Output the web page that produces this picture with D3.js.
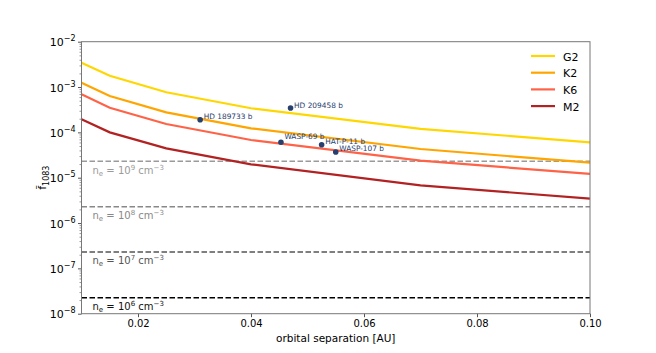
<!DOCTYPE html>
<html><head><meta charset="utf-8">
<script src="https://cdn.jsdelivr.net/npm/d3@7"></script>
<style>body{margin:0;background:#fff}svg{display:block;font-family:"DejaVu Sans",sans-serif}</style>
</head><body><svg id="c" width="656" height="353"></svg>
<script>
const separations = [0.01, 0.015, 0.025, 0.04, 0.07, 0.1];
const seriesNames = ["G2", "K2", "K6", "M2"];
const seriesColors = ["#FFD700", "#FFA500", "#FF6347", "#B22222"];
const G2 = [3.44e-3, 1.78e-3, 7.66e-4, 3.40e-4, 1.19e-4, 6.04e-5];
const K2 = [1.25e-3, 6.34e-4, 2.77e-4, 1.23e-4, 4.30e-5, 2.14e-5];
const K6 = [6.92e-4, 3.50e-4, 1.53e-4, 6.78e-5, 2.37e-5, 1.21e-5];
const M2 = [1.94e-4, 1.00e-4, 4.45e-5, 1.97e-5, 6.79e-6, 3.44e-6];
const planetNames = ["HD 189733 b", "HD 209458 b", "WASP-69 b", "HAT-P-11 b", "WASP-107 b"];
const planetSep = [0.031, 0.047, 0.0453, 0.0525, 0.055];
const planetF = [1.90e-4, 3.44e-4, 6.04e-5, 5.35e-5, 3.69e-5];
const densityExp = [9, 8, 7, 6];
const densityF = [2.3e-5, 2.3e-6, 2.3e-7, 2.25e-8];
const densityColors = ["#9a9a9a", "#888888", "#555555", "#000000"];
const xTicks = [0.02, 0.04, 0.06, 0.08, 0.10];
const yTickExp = [-2, -3, -4, -5, -6, -7, -8];

const svg = d3.select("#c");
const L = 81.5, R = 590, T = 41.7, B = 313.7;
const x = d3.scaleLinear().domain([0.01, 0.1]).range([L, R]);
const y = d3.scaleLog().domain([1e-8, 1e-2]).range([B, T]);
const series = [G2, K2, K6, M2];

// density lines
densityF.forEach((v, i) => {
  svg.append("line").attr("x1", L).attr("x2", R).attr("y1", y(v)).attr("y2", y(v))
    .attr("stroke", densityColors[i]).attr("stroke-width", 1.5).attr("stroke-dasharray", "5.5,2.5");
  const t = svg.append("text").attr("x", L + 11).attr("y", y(v) + 12.5)
    .attr("font-size", 10).attr("fill", i === 3 ? "#111" : densityColors[i]);
  t.append("tspan").text("n");
  t.append("tspan").attr("font-size", 7).attr("dy", 2).text("e");
  t.append("tspan").attr("dy", -2).text(" = 10");
  t.append("tspan").attr("font-size", 7).attr("dy", -4).text(String(densityExp[i]));
  t.append("tspan").attr("dy", 4).text(" cm");
  t.append("tspan").attr("font-size", 7).attr("dy", -4).text("\u22123");
});

// series lines
const line = d3.line().x((d, i) => x(separations[i])).y(d => y(d));
series.forEach((s, i) => {
  svg.append("path").datum(s).attr("d", line).attr("fill", "none")
    .attr("stroke", seriesColors[i]).attr("stroke-width", 2.2);
});

// planets
const pc = "#27406e";
const labelLift = [0.5, 0.5, 3.5, 0.5, 0.5];
planetNames.forEach((n, i) => {
  svg.append("circle").attr("cx", x(planetSep[i])).attr("cy", y(planetF[i])).attr("r", 2.8).attr("fill", pc);
  svg.append("text").attr("x", x(planetSep[i]) + 3.5).attr("y", y(planetF[i]) - labelLift[i])
    .attr("font-size", 7.4).attr("fill", pc).text(n);
});

// axes
const xAxis = d3.axisBottom(x).tickValues(xTicks).tickFormat(d3.format(".2f")).tickSize(3.5).tickPadding(3);
const gx = svg.append("g").attr("transform", `translate(0,${B})`).call(xAxis);
gx.select(".domain").remove();
gx.selectAll("line").attr("stroke", "#555");
gx.selectAll("text").attr("font-size", 10).attr("font-family", "DejaVu Sans").attr("fill", "#000");

const yAxis = d3.axisLeft(y).tickValues(yTickExp.map(e => Math.pow(10, e))).tickFormat("").tickSize(3.5);
const gy = svg.append("g").attr("transform", `translate(${L},0)`).call(yAxis);
gy.select(".domain").remove();
gy.selectAll("line").attr("stroke", "#555");
yTickExp.forEach(e => {
  const t = svg.append("text").attr("x", L - 6).attr("y", y(Math.pow(10, e)) + 4.5)
    .attr("text-anchor", "end").attr("font-size", 11).attr("fill", "#000");
  t.append("tspan").text("10");
  t.append("tspan").attr("font-size", 8).attr("dy", -5).text("\u2212" + Math.abs(e));
});
const minor = [];
for (let e = -8; e < -2; e++) for (let m = 2; m <= 9; m++) minor.push(m * Math.pow(10, e));
const gm = svg.append("g").attr("transform", `translate(${L},0)`)
  .call(d3.axisLeft(y).tickValues(minor).tickFormat("").tickSize(2));
gm.select(".domain").remove();
gm.selectAll("line").attr("stroke", "#555").attr("stroke-width", 0.6);

// frame
svg.append("rect").attr("x", L).attr("y", T).attr("width", R - L).attr("height", B - T)
  .attr("fill", "none").attr("stroke", "#777").attr("stroke-width", 1);

// axis labels
svg.append("text").attr("x", (L + R) / 2).attr("y", B + 28).attr("text-anchor", "middle")
  .attr("font-size", 10.5).text("orbital separation [AU]");
const yl = svg.append("text").attr("transform", `translate(46,${(T + B) / 2}) rotate(-90)`)
  .attr("text-anchor", "middle").attr("font-size", 11);
yl.append("tspan").text("f\u0303");
yl.append("tspan").attr("font-size", 8).attr("dy", 3).text("1083");

// legend
seriesNames.forEach((n, i) => {
  const ly = 56 + i * 16.7;
  svg.append("line").attr("x1", 531).attr("x2", 555).attr("y1", ly).attr("y2", ly)
    .attr("stroke", seriesColors[i]).attr("stroke-width", 2.2);
  svg.append("text").attr("x", 563).attr("y", ly + 4.5).attr("font-size", 11).text(n);
});
</script></body></html>
